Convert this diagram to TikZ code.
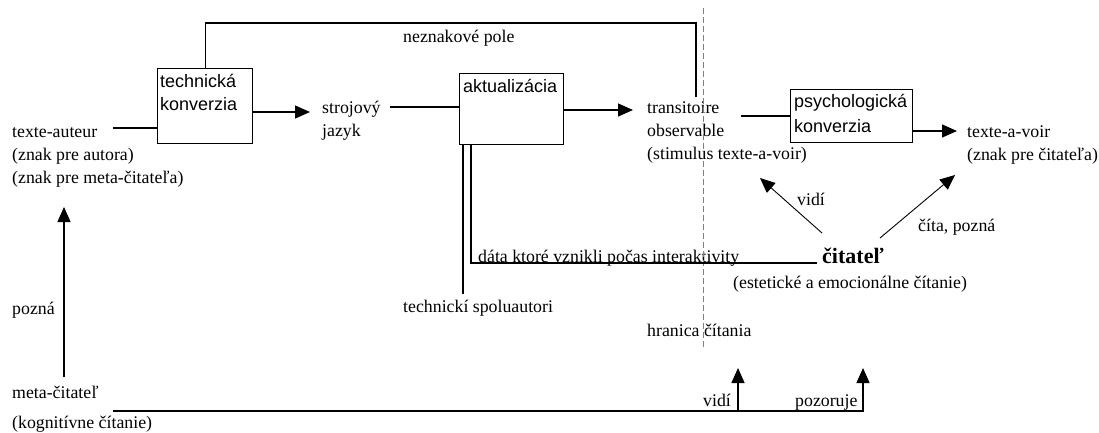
\documentclass[tikz,border=0pt]{standalone}
\usepackage{fontspec}
\setmainfont{Liberation Serif}
\setsansfont{Liberation Sans}
\usetikzlibrary{arrows.meta}
\begin{document}
\begin{tikzpicture}[x=1pt,y=-1pt,
  txt/.style={font=\fontsize{17.8}{23}\selectfont, inner sep=0, align=left, anchor=base west},
  stxt/.style={font=\sffamily\fontsize{18}{23}\selectfont, inner sep=0, align=left, anchor=base west},
  bigtxt/.style={font=\bfseries\fontsize{22}{26}\selectfont, inner sep=0, anchor=base west},
  box/.style={draw, line width=1.3pt, inner sep=0, anchor=north west},
  conn/.style={line width=1.3pt},
  arr/.style={conn, -{Triangle[length=15pt,width=13pt]}},
  thinarr/.style={line width=0.9pt, -{Triangle[length=15pt,width=13pt]}},
  border/.style={draw=gray, line width=1pt, dash pattern=on 6pt off 3pt}]
\useasboundingbox (0,0) rectangle (1099,432);

% boxes
\node[box, minimum width=95pt, minimum height=75pt] (tk) at (157,68) {};
\node[stxt] (tkt) at (160,110) {technická\\konverzia};
\node[box, minimum width=104pt, minimum height=71pt] (ak) at (459,73) {};
\node[stxt] (akt) at (463,92) {aktualizácia};
\node[box, minimum width=122pt, minimum height=53pt] (pk) at (790,89) {};
\node[stxt] (pkt) at (794,132) {psychologická\\[2pt]konverzia};

% texts (base = baseline of the last line)
\node[txt] (ta) at (12,183) {texte-auteur\\(znak pre autora)\\(znak pre meta-čitateľa)};
\node[txt] (sj) at (322,136) {strojový\\jazyk};
\node[txt] (tr) at (647,159) {transitoire\\observable\\(stimulus texte-a-voir)};
\node[txt] (tv) at (967,160) {texte-a-voir\\(znak pre čitateľa)};
\node[txt] (np) at (403,42) {neznakové pole};
\node[txt] (dk) at (478,262) {dáta ktoré vznikli počas interaktivity};
\node[txt] (ts) at (403,312) {technickí spoluautori};
\node[txt] (hc) at (647,336) {hranica čítania};
\node[bigtxt] (cit) at (822,263) {čitateľ};
\node[txt] (ec) at (733,288) {(estetické a emocionálne čítanie)};
\node[txt] (vu) at (797,205) {vidí};
\node[txt] (cp) at (918,231) {číta, pozná};
\node[txt] (pz) at (12,314) {pozná};
\node[txt] (mc) at (12,428) {meta-čitateľ\\[7pt](kognitívne čítanie)};
\node[txt] (vb) at (703,406) {vidí};
\node[txt] (po) at (795,406) {pozoruje};

% coordinates
\coordinate (topR) at (696,97);
\coordinate (taL) at (113,128);
\coordinate (a1) at (310,112);
\coordinate (sjR) at (390,107);
\coordinate (a2) at (633,110);
\coordinate (trR) at (741,116);
\coordinate (a3) at (957,131);
\coordinate (dashT) at (703,8);
\coordinate (dashB) at (703,348);
\coordinate (tsT) at (463,294);
\coordinate (dL) at (471,263);
\coordinate (dR) at (817,263);
\coordinate (c1s) at (822,233);
\coordinate (c1e) at (760,178);
\coordinate (c2s) at (880,238);
\coordinate (c2e) at (955,175);
\coordinate (mL) at (113,411);
\coordinate (v1) at (738,368);
\coordinate (v2) at (863,368);
\coordinate (pB) at (64,377);
\coordinate (pT) at (64,207);

% reading border
\draw[border] (dashT) -- (dashB);

% connectors
\draw[conn] (tk.north) -- ++(0,-45) -| (topR);
\draw[conn] (taL) -- (taL -| tk.west);
\draw[arr] (a1 -| tk.east) -- (a1);
\draw[conn] (sjR) -- (sjR -| ak.west);
\draw[arr] (a2 -| ak.east) -- (a2);
\draw[conn] (trR) -- (trR -| pk.west);
\draw[arr] (a3 -| pk.east) -- (a3);
\draw[conn] (tsT |- ak.south) -- (tsT);
\draw[conn] (dL |- ak.south) -- (dL) -- (dR);
\draw[thinarr] (c1s) -- (c1e);
\draw[thinarr] (c2s) -- (c2e);
\draw[arr] (mL) -| (v2);
\draw[arr] (v1 |- mL) -- (v1);
\draw[arr] (pB) -- (pT);
\end{tikzpicture}
\end{document}
